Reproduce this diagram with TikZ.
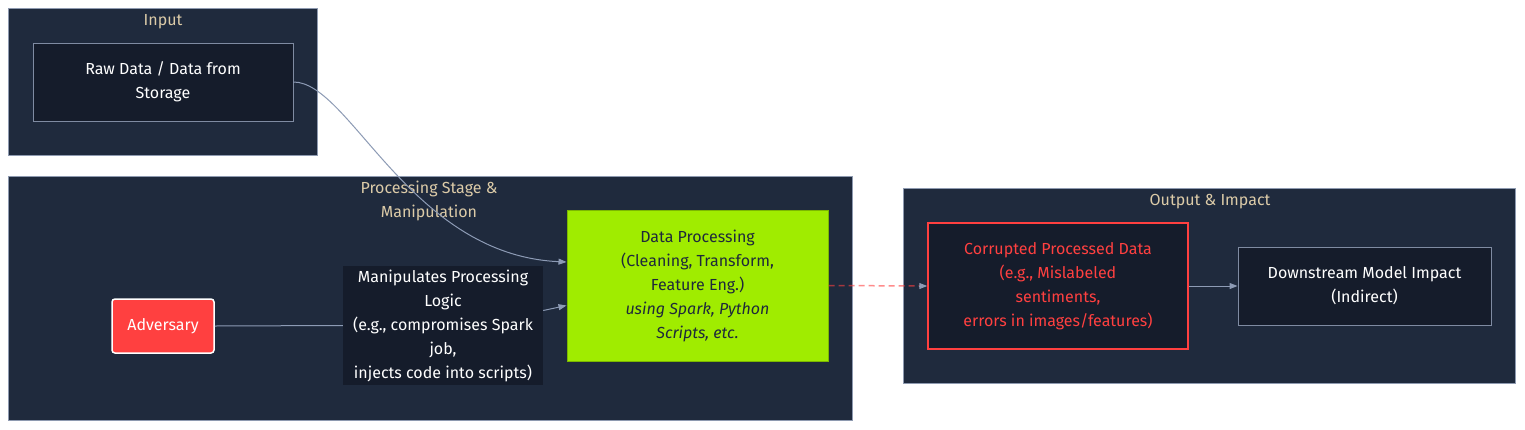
\documentclass[tikz,border=0pt]{standalone}
\usepackage{fontspec}
\setmainfont{Fira Sans}
\usetikzlibrary{arrows.meta,calc}
\definecolor{clusterfill}{HTML}{1F2A3D}
\definecolor{clusterline}{HTML}{8E9AB0}
\definecolor{nodefill}{HTML}{151C2B}
\definecolor{nodeline}{HTML}{7F8BA2}
\definecolor{titlecol}{HTML}{DCCBA8}
\definecolor{advred}{HTML}{FF4040}
\definecolor{limegreen}{HTML}{A0EC00}
\definecolor{limeline}{HTML}{7CB800}
\definecolor{darktext}{HTML}{1E293B}
\definecolor{edgecol}{HTML}{8D9BB5}
\tikzset{
  x=1pt, y=-1pt,
  txt/.style={font=\fontsize{16}{24}\selectfont, align=center},
  cluster/.style={draw=clusterline, fill=clusterfill, line width=0.8pt, inner sep=0pt},
  ctitle/.style={txt, text=titlecol, inner sep=0pt},
  box/.style={txt, draw=nodeline, fill=nodefill, text=white, line width=1pt, inner sep=0pt},
  labelbox/.style={txt, fill=nodefill, text=white, inner sep=0pt},
  advbox/.style={txt, draw=white, fill=advred, text=white, line width=1.5pt, rounded corners=3pt, inner sep=0pt},
  greenbox/.style={txt, draw=limeline, fill=limegreen, text=darktext, line width=1pt, inner sep=0pt},
  redbox/.style={txt, draw=advred, fill=nodefill, text=advred, line width=1.5pt, inner sep=0pt},
  edge/.style={draw=edgecol, line width=1pt, -{Triangle[length=8pt,width=6pt]}},
  plainedge/.style={draw=edgecol, line width=1pt},
  dashedge/.style={draw=advred, draw opacity=0.6, line width=1.5pt, dash pattern=on 6pt off 4pt},
}
\begin{document}
\begin{tikzpicture}
\useasboundingbox[fill=white] (0,0) rectangle (1525,429);
% clusters
\node[cluster, minimum width=309pt, minimum height=147pt] (inC) at (162.5,81.5) {};
\node[ctitle] (inT) at (163,21.5) {Input};
\node[cluster, minimum width=844pt, minimum height=244pt] (prC) at (430,298) {};
\node[ctitle] (prT) at (429,201) {Processing Stage \&\\Manipulation};
\node[cluster, minimum width=612pt, minimum height=195pt] (outC) at (1209,285.5) {};
\node[ctitle] (outT) at (1210,201.5) {Output \& Impact};
% nodes
\node[box, minimum width=260pt, minimum height=78pt] (raw) at (163,82) {Raw Data / Data from\\Storage};
\node[advbox, minimum width=102pt, minimum height=54pt] (adv) at (163,326) {Adversary};
\node[labelbox, minimum width=200pt, minimum height=119pt] (man) at (443,325.5) {Manipulates Processing\\Logic\\(e.g., compromises Spark\\job,\\injects code into scripts)};
\node[greenbox, minimum width=261pt, minimum height=151pt] (dp) at (697.5,285.5) {Data Processing\\(Cleaning, Transform,\\Feature Eng.)\\\textit{using Spark, Python}\\\textit{Scripts, etc.}};
\node[redbox, minimum width=260pt, minimum height=126pt] (cor) at (1058,286) {Corrupted Processed Data\\(e.g., Mislabeled\\sentiments,\\errors in images/features)};
\node[box, minimum width=253pt, minimum height=78pt] (down) at (1364.5,286) {Downstream Model Impact\\(Indirect)};
% edges
\coordinate (dpIn1) at ($(dp.west)+(0,-23.5)$);
\coordinate (dpIn2) at ($(dp.west)+(0,20)$);
\coordinate (manOut) at ($(man.east)+(0,-15)$);
\draw[edge] (raw.east) .. controls (350,82) and (410,255) .. (dpIn1);
\draw[plainedge] (adv.east) -- (man.west);
\draw[edge] (manOut) -- (dpIn2);
\draw[dashedge] (dp.east) -- ($(cor.west)+(-6,0)$);
\draw[edge] ($(cor.west)+(-8,0)$) -- (cor.west);
\draw[edge] (cor.east) -- (down.west);
\end{tikzpicture}
\end{document}
